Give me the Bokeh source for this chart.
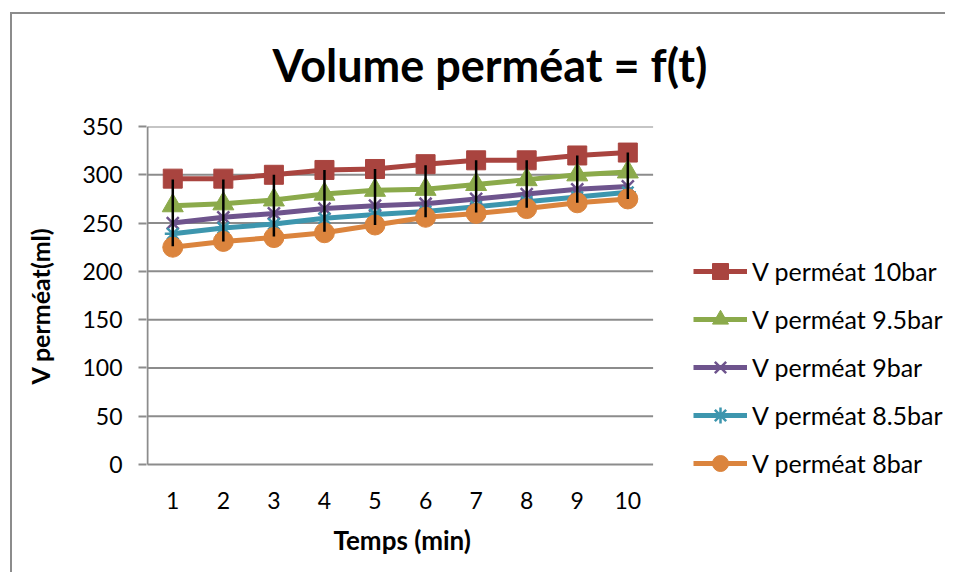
from bokeh.plotting import figure
from bokeh.models import (Legend, LegendItem, FixedTicker, Range1d, Title)
from bokeh.embed import file_html
from bokeh.resources import INLINE

# ---- data ----
time_min = [1, 2, 3, 4, 5, 6, 7, 8, 9, 10]
v_10bar = [296, 296, 300, 305, 306, 311, 315, 315, 320, 323]
v_9_5bar = [268, 270, 274, 280, 284, 285, 290, 295, 300, 303]
v_9bar = [250, 256, 260, 265, 268, 270, 275, 280, 285, 288]
v_8_5bar = [239, 245, 249, 255, 259, 262, 267, 272, 277, 282]
v_8bar = [225, 231, 235, 240, 248, 256, 260, 265, 271, 275]
err_top = [295, 295, 300, 305, 306, 310, 315, 315, 320, 323]
err_bottom = [226, 231, 236, 241, 248, 256, 261, 266, 271, 275]

series_labels = ["V perméat 10bar", "V perméat 9.5bar", "V perméat 9bar",
                 "V perméat 8.5bar", "V perméat 8bar"]
y_ticks = [0, 50, 100, 150, 200, 250, 300, 350]

series = [v_10bar, v_9_5bar, v_9bar, v_8_5bar, v_8bar]
colors = ["#A9443F", "#8BAA4B", "#6E548D", "#3D96AE", "#DB843D"]
markers = ["square", "triangle", "x", "asterisk", "circle"]
msizes = [19, 21, 17, 16, 20]

FONT = "Lato"
GRID = "#8C8C8C"

# category axis spans 0.5..10.5 ; frame extended right to hold the legend
X0, X1 = 0.5, 10.5
PX_PER_X = 50.56
x_start = X0 - 1.0 / PX_PER_X
x_end = x_start + 799.0 / PX_PER_X

p = figure(width=945, height=572, output_backend="svg", toolbar_location=None,
           x_range=Range1d(x_start, x_end), y_range=Range1d(-21.7, 350),
           min_border_left=146, min_border_right=0,
           min_border_top=125, min_border_bottom=87)
p.outline_line_color = None
p.background_fill_color = "white"
p.border_fill_alpha = 0
p.styles = {
    "background": ("linear-gradient(#8C8C8C, #8C8C8C) 10px 12px / 2px 2000px no-repeat, "
                   "linear-gradient(#8C8C8C, #8C8C8C) 10px 12px / 2000px 2px no-repeat, "
                   "#ffffff"),
}

title = Title(text="Volume perméat = f(t)", align="left", offset=126,
              text_font=FONT, text_font_size="45px", text_font_style="bold",
              text_color="black", standoff=70)
p.add_layout(title, "above")

# axes
p.xaxis.ticker = FixedTicker(ticks=time_min)
p.yaxis.ticker = FixedTicker(ticks=y_ticks)
for ax in (p.xaxis, p.yaxis):
    ax.axis_line_color = None
    ax.major_label_text_font = FONT
    ax.major_label_text_font_size = "23px"
    ax.major_label_text_color = "black"
    ax.minor_tick_line_color = None
    ax.axis_label_text_font = FONT
    ax.axis_label_text_font_size = "25px"
    ax.axis_label_text_font_style = "bold"
    ax.axis_label_text_color = "black"
p.xaxis.major_tick_line_color = None
p.xaxis.major_label_standoff = 0
p.yaxis.major_tick_line_color = GRID
p.yaxis.major_tick_line_width = 2
p.yaxis.major_tick_out = 8
p.yaxis.major_tick_in = 0
p.yaxis.major_label_standoff = 16
p.yaxis.axis_label = "V perméat(ml)"
p.yaxis.axis_label_standoff = 24

xlabel = Title(text="Temps (min)", align="left", offset=187,
               text_font=FONT, text_font_size="26px", text_font_style="bold",
               text_color="black", standoff=20)
p.add_layout(xlabel, "below")

p.xgrid.grid_line_color = None
p.ygrid.grid_line_color = None

# horizontal gridlines and vertical axis line of the plot area
p.segment(x0=[X0] * len(y_ticks), x1=[X1] * len(y_ticks), y0=y_ticks, y1=y_ticks,
          line_color=GRID, line_width=2)
p.segment(x0=[X0], x1=[X0], y0=[y_ticks[0]], y1=[y_ticks[-1]],
          line_color=GRID, line_width=2)

items = []
for vals, lab, c, m, s in zip(series, series_labels, colors, markers, msizes):
    lr = p.line(time_min, vals, line_color=c, line_width=5)
    if m in ("x", "asterisk"):
        sr = p.scatter(time_min, vals, marker=m, size=s, line_color=c, line_width=2.5)
    else:
        sr = p.scatter(time_min, vals, marker=m, size=s, fill_color=c, line_color=c, line_width=1)
    items.append(LegendItem(label=lab, renderers=[lr, sr]))

p.segment(x0=time_min, y0=err_bottom, x1=time_min, y1=err_top,
          line_color="black", line_width=2.5)

legend = Legend(items=items, location=(547, 2), orientation="vertical",
                glyph_width=54, glyph_height=40, label_height=40,
                spacing=8, padding=0, margin=0, label_standoff=5,
                label_text_font=FONT, label_text_font_size="25px",
                label_text_color="black",
                border_line_alpha=0, background_fill_alpha=0)
p.add_layout(legend, "center")

open("out.html", "w").write(file_html(p, INLINE))
